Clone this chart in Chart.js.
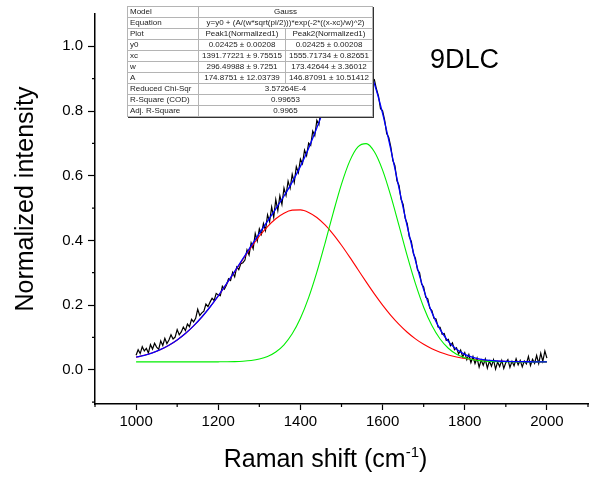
<!DOCTYPE html>
<html lang="en">
<head>
<meta charset="UTF-8">
<title>9DLC Raman Gauss fit</title>
<script src="https://cdn.jsdelivr.net/npm/chart.js"></script>
<style>
    body {
        margin: 0;
        background: #fff;
        font-family: "Liberation Sans", Arial, sans-serif;
    }
    .wrap {
        position: relative;
        width: 590px;
        height: 477px;
    }
    .fit-table {
        position: absolute;
        left: 127px;
        top: 6px;
        width: 245px;
        border-collapse: collapse;
        table-layout: fixed;
        background: #fff;
        font-size: 8px;
        color: #222;
        border: 1px solid #000;
        box-shadow: 1px 1px 0 #333;
    }
    .fit-table td {
        height: 10px;
        line-height: 10px;
        padding: 0 2px;
        border: 1px solid #b4b4b4;
        white-space: nowrap;
        overflow: hidden;
        text-align: center;
    }
    .fit-table td:first-child {
        text-align: left;
    }
    .sample-label {
        position: absolute;
        left: 430px;
        top: 46px;
        font-size: 27px;
        line-height: 27px;
        color: #000;
    }
</style>
</head>
<body>
<div class="wrap">
    <canvas id="raman" width="590" height="477"></canvas>
    <table class="fit-table" id="fitTable">
        <colgroup><col style="width:71px"><col style="width:87px"><col style="width:87px"></colgroup>
        <tbody></tbody>
    </table>
    <div class="sample-label">9DLC</div>
</div>

<script>
// measured spectrum (Raman shift, normalized intensity)
const shiftData = [
    1000,1005,1010,1015,1020,1025,1030,1035,1040,1045,1050,1055,1060,1065,1070,1075,1080,1085,1090,1095,
    1100,1105,1110,1115,1120,1125,1130,1135,1140,1145,1150,1155,1160,1165,1170,1175,1180,1185,1190,1195,
    1200,1205,1210,1215,1220,1225,1230,1235,1240,1245,1250,1255,1260,1265,1270,1275,1280,1285,1290,1295,
    1300,1305,1310,1315,1320,1325,1330,1335,1340,1345,1350,1355,1360,1365,1370,1375,1380,1385,1390,1395,
    1400,1405,1410,1415,1420,1425,1430,1435,1440,1445,1450,1455,1460,1465,1470,1475,1480,1485,1490,1495,
    1500,1505,1510,1515,1520,1525,1530,1535,1540,1545,1550,1555,1560,1565,1570,1575,1580,1585,1590,1595,
    1600,1605,1610,1615,1620,1625,1630,1635,1640,1645,1650,1655,1660,1665,1670,1675,1680,1685,1690,1695,
    1700,1705,1710,1715,1720,1725,1730,1735,1740,1745,1750,1755,1760,1765,1770,1775,1780,1785,1790,1795,
    1800,1805,1810,1815,1820,1825,1830,1835,1840,1845,1850,1855,1860,1865,1870,1875,1880,1885,1890,1895,
    1900,1905,1910,1915,1920,1925,1930,1935,1940,1945,1950,1955,1960,1965,1970,1975,1980,1985,1990,1995,
    2000
];
const intensity = [
    .045,.062,.050,.071,.058,.066,.052,.078,.064,.082, .070,.063,.089,.075,.097,.081,.092,.108,.095,.101,
    .124,.108,.117,.132,.121,.141,.133,.156,.148,.159, .187,.168,.176,.181,.203,.195,.209,.221,.214,.236,
    .231,.229,.258,.249,.262,.281,.276,.301,.287,.318, .309,.328,.331,.339,.371,.355,.392,.374,.421,.398,
    .436,.419,.452,.431,.479,.458,.503,.471,.526,.492, .538,.511,.562,.539,.583,.561,.604,.579,.628,.609,
    .651,.637,.679,.662,.701,.694,.738,.724,.771,.758, .804,.791,.838,.824,.861,.879,.873,.912,.901,.938,
    .929,.956,.947,.972,.963,.981,.966,.985,.969,.979, .957,.966,.941,.945,.922,.893,.897,.868,.846,.807,
    .801,.772,.730,.718,.689,.647,.631,.584,.570,.527, .511,.468,.452,.411,.397,.359,.344,.309,.300,.265,
    .256,.224,.219,.190,.183,.159,.157,.132,.131,.110, .112,.091,.094,.074,.083,.062,.068,.049,.061,.040,
    .053,.031,.047,.022,.041,.019,.036,.008,.030,.014, .033,.005,.027,.011,.031,.002,.024,.010,.029,.004,
    .022,.031,.007,.026,.012,.034,.015,.029,.009,.027, .018,.041,.013,.032,.020,.044,.019,.051,.026,.058,
    .036
];

// fitted curves
const fitShift = [
    1000,1020,1040,1060,1080,1100,1120,1140,1160,1180,1200,1220,1240,1260,1280,1300,1320,1340,1360,1380,
    1400,1420,1440,1460,1480,1500,1520,1540,1560,1580,1600,1620,1640,1660,1680,1700,1720,1740,1760,1780,
    1800,1820,1840,1860,1880,1900,1920,1940,1960,1980,2000
];
const peak1 = [
    .0386,.0445,.0524,.0627,.0758,.0921,.1119,.1355,.1629,.1939,.2281,.2648,.3029,.3413,.3784,.4128,.4428,.4670,.4842,.4934,
    .4942,.4865,.4707,.4476,.4186,.3848,.3481,.3099,.2716,.2345,.1998,.1682,.1402,.1159,.0954,.0785,.0649,.0541,.0458,.0395,
    .0349,.0315,.0291,.0275,.0263,.0256,.0251,.0248,.0246,.0244,.0244
];
const peak2 = [
    .0243,.0243,.0243,.0243,.0243,.0243,.0243,.0243,.0243,.0243,.0244,.0246,.0251,.0263,.0286,.0330,.0410,.0549,.0772,.1110,
    .1590,.2228,.3017,.3917,.4859,.5740,.6451,.6890,.6992,.6740,.6173,.5376,.4455,.3520,.2661,.1934,.1365,.0949,.0664,.0481,
    .0370,.0307,.0274,.0257,.0249,.0245,.0243,.0243,.0243,.0243,.0243
];
const cumulative = [
    .0386,.0445,.0524,.0627,.0758,.0921,.1119,.1355,.1629,.1940,.2283,.2652,.3038,.3433,.3827,.4215,.4595,.4976,.5371,.5801,
    .6289,.6850,.7481,.8150,.8802,.9345,.9689,.9746,.9465,.8842,.7928,.6815,.5614,.4436,.3372,.2476,.1771,.1247,.0879,.0633,
    .0476,.0380,.0323,.0289,.0270,.0259,.0252,.0248,.0246,.0244,.0244
];

// axis ticks
const xMajor = [1000, 1200, 1400, 1600, 1800, 2000];
const xMinor = [900, 1100, 1300, 1500, 1700, 1900, 2100];
const yMajor = [0, 0.2, 0.4, 0.6, 0.8, 1.0];
const yMinor = [-0.1, 0.1, 0.3, 0.5, 0.7, 0.9];

// fit report table
const fitRows = [
    ['Model', 'Gauss'],
    ['Equation', 'y=y0 + (A/(w*sqrt(pi/2)))*exp(-2*((x-xc)/w)^2)'],
    ['Plot', 'Peak1(Normalized1)', 'Peak2(Normalized1)'],
    ['y0', '0.02425 \u00b1 0.00208', '0.02425 \u00b1 0.00208'],
    ['xc', '1391.77221 \u00b1 9.75515', '1555.71734 \u00b1 0.82651'],
    ['w', '296.49988 \u00b1 9.7251', '173.42644 \u00b1 3.36012'],
    ['A', '174.8751 \u00b1 12.03739', '146.87091 \u00b1 10.51412'],
    ['Reduced Chi-Sqr', '3.57264E-4'],
    ['R-Square (COD)', '0.99653'],
    ['Adj. R-Square', '0.9965']
];

const tbody = document.querySelector('#fitTable tbody');
fitRows.forEach(row => {
    const tr = document.createElement('tr');
    row.forEach((txt, i) => {
        const td = document.createElement('td');
        td.textContent = txt;
        if (row.length === 2 && i === 1) td.colSpan = 2;
        tr.appendChild(td);
    });
    tbody.appendChild(tr);
});

const FONT = '"Liberation Sans", Arial, sans-serif';
const pts = (xs, ys) => xs.map((v, i) => ({x: v, y: ys[i]}));

// minor ticks + axis titles (x title has a superscript)
const axisDecor = {
    id: 'axisDecor',
    afterDraw(chart) {
        const {ctx, chartArea: a, scales: {x, y}} = chart;
        ctx.save();
        ctx.strokeStyle = '#000';
        ctx.lineWidth = 1.2;
        ctx.beginPath();
        xMinor.forEach(v => {
            const px = x.getPixelForValue(v);
            ctx.moveTo(px, a.bottom);
            ctx.lineTo(px, a.bottom + 3);
        });
        yMinor.forEach(v => {
            const py = y.getPixelForValue(v);
            ctx.moveTo(a.left, py);
            ctx.lineTo(a.left - 3, py);
        });
        ctx.stroke();

        ctx.fillStyle = '#000';
        ctx.textBaseline = 'alphabetic';
        const main = 'Raman shift (cm', sup = '-1', tail = ')';
        ctx.font = '25px ' + FONT;
        const w1 = ctx.measureText(main).width, w3 = ctx.measureText(tail).width;
        ctx.font = '15px ' + FONT;
        const w2 = ctx.measureText(sup).width;
        const cx = (a.left + a.right) / 2 - 16;
        let sx = cx - (w1 + w2 + w3) / 2;
        const base = 467;
        ctx.font = '25px ' + FONT;
        ctx.fillText(main, sx, base);
        sx += w1;
        ctx.font = '15px ' + FONT;
        ctx.fillText(sup, sx, base - 10);
        sx += w2;
        ctx.font = '25px ' + FONT;
        ctx.fillText(tail, sx, base);

        ctx.translate(33, (a.top + a.bottom) / 2 - 10);
        ctx.rotate(-Math.PI / 2);
        ctx.textAlign = 'center';
        ctx.fillText('Normalized intensity', 0, 0);
        ctx.restore();
    }
};

new Chart(document.getElementById('raman'), {
    type: 'line',
    data: {
        datasets: [
            {label: 'Cumulative fit', data: pts(fitShift, cumulative), borderColor: '#0000ff', borderWidth: 1.3, cubicInterpolationMode: 'monotone'},
            {label: 'Peak2', data: pts(fitShift, peak2), borderColor: '#00ee00', borderWidth: 1.1, cubicInterpolationMode: 'monotone'},
            {label: 'Peak1', data: pts(fitShift, peak1), borderColor: '#ff0000', borderWidth: 1.1, cubicInterpolationMode: 'monotone'},
            {label: '9DLC', data: pts(shiftData, intensity), borderColor: '#000000', borderWidth: 1.2, tension: 0}
        ]
    },
    options: {
        responsive: false,
        devicePixelRatio: 1,
        animation: false,
        layout: {padding: {top: 5, right: 2, left: 0, bottom: 0}},
        elements: {point: {radius: 0}},
        plugins: {legend: {display: false}, tooltip: {enabled: false}},
        scales: {
            x: {
                type: 'linear',
                min: 900,
                max: 2100,
                afterFit: s => { s.height = 73; },
                afterBuildTicks: s => { s.ticks = xMajor.map(v => ({value: v})); },
                border: {display: true, color: '#000', width: 1.5},
                grid: {drawOnChartArea: false, drawTicks: true, tickLength: 6, tickColor: '#000', tickWidth: 1.2},
                ticks: {color: '#000', padding: 3, maxRotation: 0, font: {family: FONT, size: 15}, callback: v => String(v)}
            },
            y: {
                type: 'linear',
                min: -0.106,
                max: 1.1,
                afterFit: s => { s.width = 95; },
                afterBuildTicks: s => { s.ticks = yMajor.map(v => ({value: v})); },
                border: {display: true, color: '#000', width: 1.5},
                grid: {drawOnChartArea: false, drawTicks: true, tickLength: 7, tickColor: '#000', tickWidth: 1.2},
                ticks: {color: '#000', padding: 5, font: {family: FONT, size: 15}, callback: v => v.toFixed(1)}
            }
        }
    },
    plugins: [axisDecor]
});
</script>
</body>
</html>
